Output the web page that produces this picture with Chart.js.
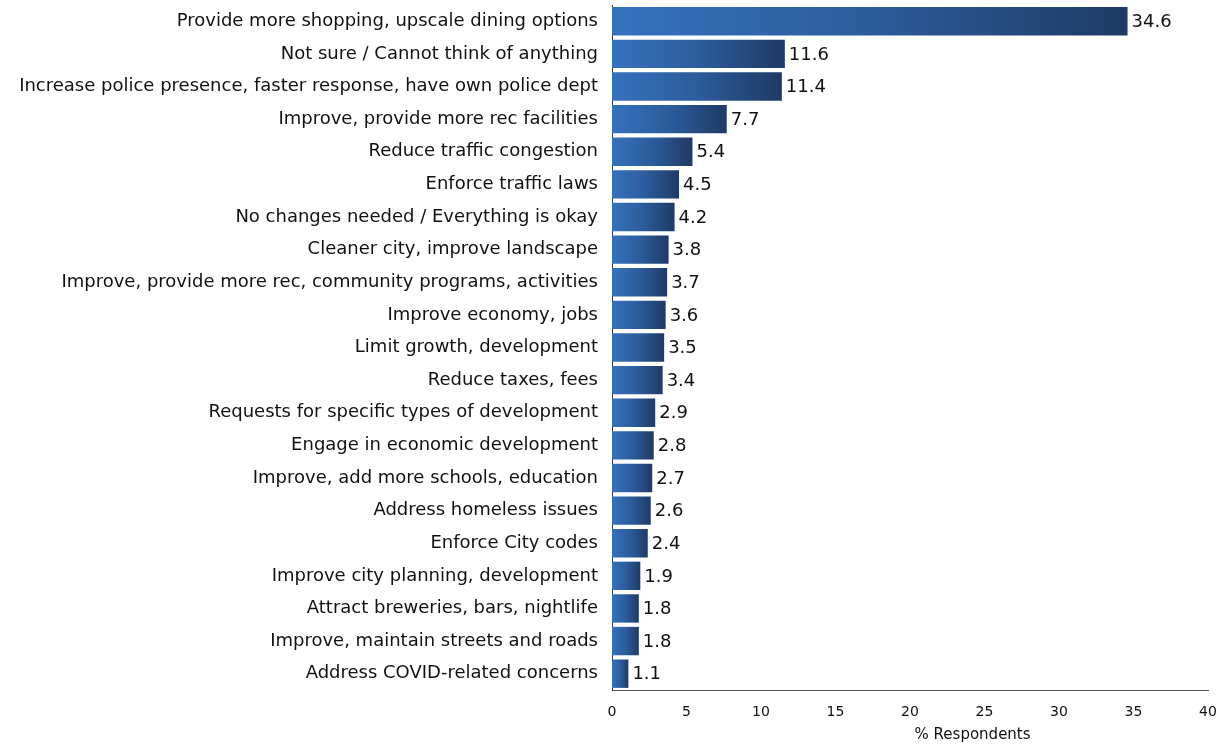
<!DOCTYPE html>
<html>
<head>
<meta charset="utf-8">
<script src="https://cdn.jsdelivr.net/npm/chart.js@4"></script>
<style>
  html, body { margin: 0; padding: 0; background: #fff; }
  #wrap { width: 1228px; height: 744px; }
</style>
</head>
<body>
<div id="wrap"><canvas id="improveChart" width="1228" height="744"></canvas></div>
<script>
var labels = [
  'Provide more shopping, upscale dining options',
  'Not sure / Cannot think of anything',
  'Increase police presence, faster response, have own police dept',
  'Improve, provide more rec facilities',
  'Reduce traffic congestion',
  'Enforce traffic laws',
  'No changes needed / Everything is okay',
  'Cleaner city, improve landscape',
  'Improve, provide more rec, community programs, activities',
  'Improve economy, jobs',
  'Limit growth, development',
  'Reduce taxes, fees',
  'Requests for specific types of development',
  'Engage in economic development',
  'Improve, add more schools, education',
  'Address homeless issues',
  'Enforce City codes',
  'Improve city planning, development',
  'Attract breweries, bars, nightlife',
  'Improve, maintain streets and roads',
  'Address COVID-related concerns'
];
var percents = [34.6, 11.6, 11.4, 7.7, 5.4, 4.5, 4.2, 3.8, 3.7, 3.6, 3.5, 3.4, 2.9, 2.8, 2.7, 2.6, 2.4, 1.9, 1.8, 1.8, 1.1];
var xTicks = [0, 5, 10, 15, 20, 25, 30, 35, 40];
var xTitle = '% Respondents';

var fontName = "'DejaVu Sans', sans-serif";
var tickFont = "'DejaVu Sans', sans-serif";

// each bar fades from mid blue at zero to navy at its end
function barFill(ctx) {
  var chart = ctx.chart;
  var xs = chart.scales.x;
  if (!xs || ctx.parsed === undefined) return '#2c5a9a';
  var x0 = xs.getPixelForValue(0);
  var x1 = xs.getPixelForValue(ctx.parsed.x);
  if (!isFinite(x0) || !isFinite(x1) || x1 - x0 < 1) return '#2c5a9a';
  var g = chart.ctx.createLinearGradient(x0, 0, x1, 0);
  g.addColorStop(0, '#3572bd');
  g.addColorStop(0.5, '#2c5c9c');
  g.addColorStop(1, '#1f3a64');
  return g;
}

// value after each bar, plus the axis title sitting a bit right of centre
var valueLabels = {
  id: 'valueLabels',
  afterDatasetsDraw: function(chart) {
    var c = chart.ctx;
    var meta = chart.getDatasetMeta(0);
    c.save();
    c.font = '18px ' + fontName;
    c.fillStyle = '#111';
    c.textAlign = 'left';
    c.textBaseline = 'middle';
    meta.data.forEach(function(bar, i) {
      c.fillText(percents[i].toFixed(1), bar.x + 4, bar.y + 1);
    });
    var xs = chart.scales.x;
    c.font = '15px ' + fontName;
    c.textAlign = 'center';
    c.textBaseline = 'bottom';
    c.fillText(xTitle, xs.left + xs.width * 0.605, chart.height - 1);
    c.restore();
  }
};

new Chart(document.getElementById('improveChart'), {
  type: 'bar',
  data: {
    labels: labels,
    datasets: [{
      data: percents,
      backgroundColor: barFill,
      borderWidth: 0,
      barPercentage: 0.87,
      categoryPercentage: 1.0
    }]
  },
  options: {
    indexAxis: 'y',
    responsive: false,
    animation: false,
    layout: { padding: { top: 5, right: 20, left: 0, bottom: 0 } },
    plugins: { legend: { display: false }, tooltip: { enabled: false } },
    scales: {
      x: {
        min: 0, max: 40,
        afterFit: function(s) { s.height = 54; s.paddingLeft = 0; s.paddingRight = 0; },
        afterBuildTicks: function(s) { s.ticks = xTicks.map(function(v) { return { value: v }; }); },
        grid: { display: false, drawTicks: false },
        border: { display: true, color: '#555', width: 1 },
        ticks: { color: '#111', padding: 14, font: { family: tickFont, size: 14 }, maxRotation: 0 }
      },
      y: {
        afterFit: function(s) { s.width = 612; s.paddingTop = 0; s.paddingBottom = 0; },
        grid: { display: false, drawTicks: false },
        border: { display: true, color: '#333', width: 1 },
        ticks: { color: '#111', padding: 14, autoSkip: false, font: { family: fontName, size: 18 } }
      }
    }
  },
  plugins: [valueLabels]
});
</script>
</body>
</html>
